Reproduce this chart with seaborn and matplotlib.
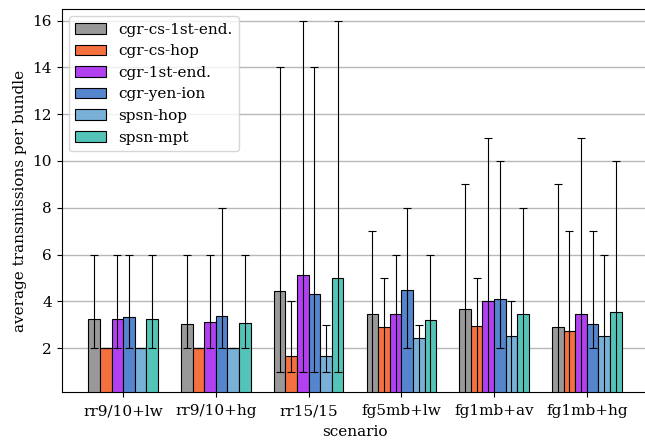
import numpy as np
import pandas as pd
import seaborn as sns
import matplotlib
matplotlib.use('Agg')
import matplotlib.pyplot as plt

scenarios = ['rr9/10+lw', 'rr9/10+hg', 'rr15/15', 'fg5mb+lw', 'fg1mb+av', 'fg1mb+hg']
algorithms = ['cgr-cs-1st-end.', 'cgr-cs-hop', 'cgr-1st-end.', 'cgr-yen-ion', 'spsn-hop', 'spsn-mpt']
colors = ['#999999', '#f5703f', '#b040f0', '#5585cc', '#78b0d8', '#55c4b8']

# mean transmissions per bundle (one list per algorithm, in scenario order)
mean_cs_1st = [3.25, 3.05, 4.45, 3.48, 3.68, 2.90]
mean_cs_hop = [2.00, 2.00, 1.67, 2.92, 2.97, 2.75]
mean_1st = [3.25, 3.13, 5.13, 3.48, 4.02, 3.47]
mean_yen = [3.35, 3.39, 4.32, 4.47, 4.11, 3.05]
mean_spsn_hop = [2.00, 2.00, 1.69, 2.46, 2.52, 2.52]
mean_spsn_mpt = [3.25, 3.08, 5.00, 3.20, 3.48, 3.53]

# min / max whiskers
low_cs_1st = [2, 2, 1, 0, 0, 0]
low_cs_hop = [2, 2, 1, 0, 0, 0]
low_1st = [2, 2, 1, 0, 0, 0]
low_yen = [2, 2, 1, 2, 2, 2]
low_spsn_hop = [2, 2, 1, 0, 0, 0]
low_spsn_mpt = [2, 2, 1, 0, 0, 0]

high_cs_1st = [6, 6, 14, 7, 9, 9]
high_cs_hop = [2, 2, 4, 5, 5, 7]
high_1st = [6, 6, 16, 6, 11, 11]
high_yen = [6, 8, 14, 8, 10, 7]
high_spsn_hop = [2, 2, 3, 3, 4, 6]
high_spsn_mpt = [6, 6, 16, 6, 8, 10]

means = [mean_cs_1st, mean_cs_hop, mean_1st, mean_yen, mean_spsn_hop, mean_spsn_mpt]
lows = [low_cs_1st, low_cs_hop, low_1st, low_yen, low_spsn_hop, low_spsn_mpt]
highs = [high_cs_1st, high_cs_hop, high_1st, high_yen, high_spsn_hop, high_spsn_mpt]

rows = []
for a, alg in enumerate(algorithms):
    for s, sc in enumerate(scenarios):
        rows.append({'scenario': sc, 'algorithm': alg, 'value': means[a][s],
                     'low': lows[a][s], 'high': highs[a][s]})
df = pd.DataFrame(rows)

plt.rcParams['font.family'] = 'DejaVu Serif'
plt.rcParams['font.size'] = 11

fig = plt.figure(figsize=(6.45, 4.41), dpi=100)
ax = fig.add_axes([0.0957, 0.1104, 1.005 - 0.0957, 0.980 - 0.1104])

sns.barplot(data=df, x='scenario', y='value', hue='algorithm', order=scenarios,
            hue_order=algorithms, palette=colors, width=0.75, errorbar=None,
            edgecolor='black', linewidth=0.8, saturation=1, ax=ax)

# min-max whiskers on top of each bar
bar_containers = list(ax.containers)
for a, cont in enumerate(bar_containers):
    for s, bar in enumerate(cont):
        xc = bar.get_x() + bar.get_width() / 2
        m = means[a][s]
        ax.errorbar(xc, m, yerr=[[m - lows[a][s]], [highs[a][s] - m]],
                    color='black', lw=0.8, capsize=3, capthick=0.8, zorder=5)

ax.yaxis.grid(True, color='#b8b8b8', lw=1)
ax.set_axisbelow(True)
ax.set_xlim(-0.6625, 5.6625)
ax.set_ylim(0.12, 16.5)
ax.set_yticks([2, 4, 6, 8, 10, 12, 14, 16])
ax.tick_params(axis='x', pad=5)
ax.set_xlabel('scenario', labelpad=5)
ax.set_ylabel('average transmissions per bundle')

handles, labels = ax.get_legend_handles_labels()
ax.legend(handles, labels, loc='upper left')

fig.savefig('out.png', dpi=100)
